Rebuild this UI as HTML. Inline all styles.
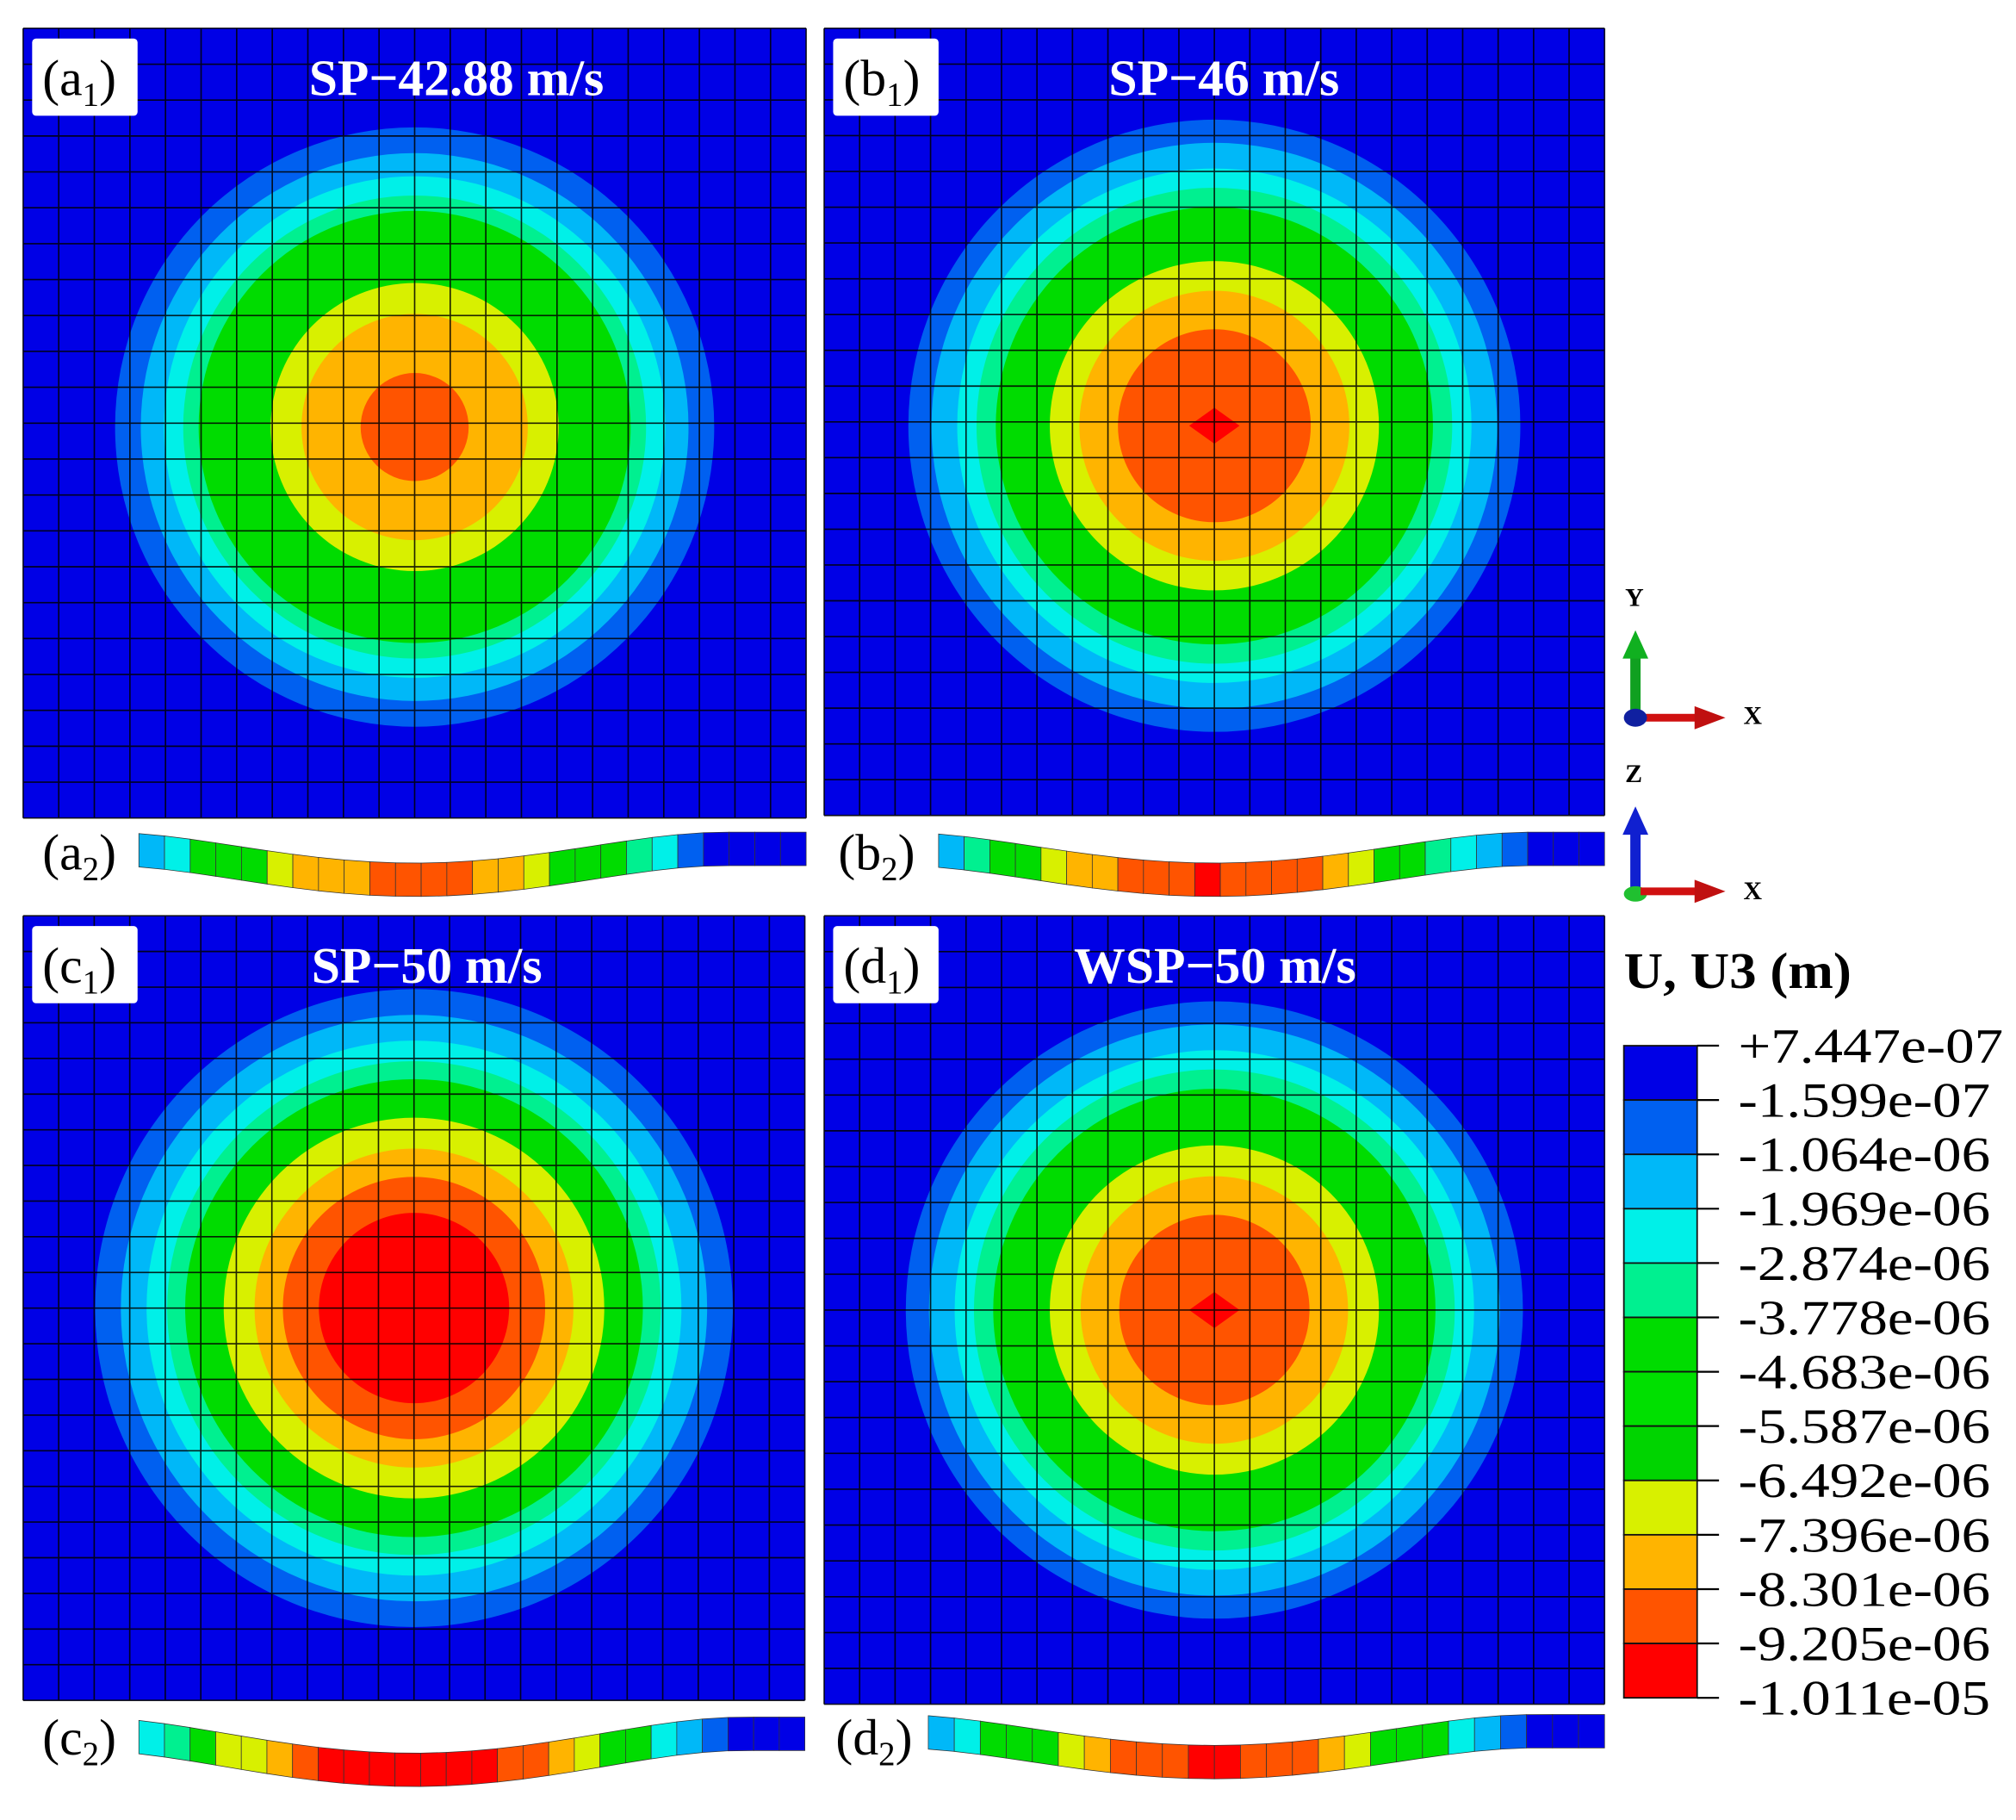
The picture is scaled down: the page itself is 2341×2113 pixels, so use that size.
<!DOCTYPE html>
<html><head><meta charset="utf-8">
<style>
html,body{margin:0;padding:0;background:#fff;}
svg{display:block;}
text{font-family:"Liberation Serif",serif;}
</style></head>
<body>
<svg id="fig" width="2341" height="2113" viewBox="0 0 1568 1415" preserveAspectRatio="none" xmlns="http://www.w3.org/2000/svg">
<g id="panels"></g>
<g id="legend"></g>
<g id="triads">
  <text x="1264" y="471" font-size="20" font-weight="bold">Y</text>
  <rect x="1268" y="508" width="8" height="48" fill="#10a020"/>
  <polygon points="1262,512 1272,490 1282,512" fill="#10b020"/>
  <rect x="1276" y="555" width="44" height="6" fill="#d01010"/>
  <polygon points="1318,549 1342,558 1318,567" fill="#c01010"/>
  <ellipse cx="1272" cy="558" rx="9" ry="7" fill="#1020a0"/>
  <text x="1356" y="563" font-size="20" font-weight="bold">X</text>
  <text x="1264" y="608" font-size="20" font-weight="bold">Z</text>
  <rect x="1268" y="645" width="8" height="46" fill="#1020d0"/>
  <polygon points="1262,649 1272,627 1282,649" fill="#1020d0"/>
  <ellipse cx="1272" cy="695" rx="9" ry="6" fill="#20c030"/>
  <rect x="1276" y="690" width="44" height="6" fill="#d01010"/>
  <polygon points="1318,684 1342,693 1318,702" fill="#c01010"/>
  <text x="1356" y="699" font-size="20" font-weight="bold">X</text>
</g>
</svg>
<script>
const bandColors=["#0000e6","#0060f0","#00b8f8","#00f0e8","#00f090","#00dc00","#00e000","#00d400","#d8f000","#ffb400","#ff5400","#ff0000"];
const legendLabels=["+7.447e-07","-1.599e-07","-1.064e-06","-1.969e-06","-2.874e-06","-3.778e-06","-4.683e-06","-5.587e-06","-6.492e-06","-7.396e-06","-8.301e-06","-9.205e-06","-1.011e-05"];
const panelNames=["a","b","c","d"];
const panelTitles=["SP\u221242.88 m/s","SP\u221246 m/s","SP\u221250 m/s","WSP\u221250 m/s"];
// contour radii (outer -> inner) for band indices 1..11
const bandIdx=[1,2,3,4,5,8,9,10,11];
const radiiA=[233,213,195,180,168,112,88,42,0];
const radiiB=[238,220,200,185,170,128,105,75,14];
const radiiC=[248,228,208,192,178,148,124,102,74];
const radiiD=[240,222,202,187,172,128,104,74,14];
const allRadii=[radiiA,radiiB,radiiC,radiiD];
const NS="http://www.w3.org/2000/svg";
function mk(t,a,p){const e=document.createElementNS(NS,t);for(const k in a)e.setAttribute(k,a[k]);(p||null)&&p.appendChild(e);return e;}
const geo=[
 {x:18,y:22,w:609,h:614,sx:108,sy:643,lx:33,ly:676,tx:355},
 {x:641,y:22,w:607,h:612,sx:730,sy:643,lx:652,ly:676,tx:952},
 {x:18,y:712,w:608,h:610,sx:108,sy:1331,lx:33,ly:1364,tx:332},
 {x:641,y:712,w:607,h:613,sx:722,sy:1329,lx:650,ly:1364,tx:945}
];
function colorAt(r,radii){
  let c=bandColors[0];
  for(let i=0;i<radii.length;i++){ if(r<=radii[i]) c=bandColors[bandIdx[i]]; }
  return c;
}
const panelsG=document.getElementById('panels');
geo.forEach((g,pi)=>{
  const radii=allRadii[pi];
  const grp=mk('g',{},panelsG);
  
  
  const cx=g.x+g.w/2+(pi%2===0?0:0), cy=g.y+g.h*0.5+(pi<2?3:0);
  mk('rect',{x:g.x,y:g.y,width:g.w,height:g.h,fill:bandColors[0]},grp);
  radii.forEach((r,i)=>{
    if(r<=0) return;
    const c=mk('circle',{cx:cx,cy:cy,r:r,fill:bandColors[bandIdx[i]]},grp);
    if(i===radii.length-1&&r<20){c.remove();mk('polygon',{points:`${cx-r*1.4},${cy} ${cx},${cy-r} ${cx+r*1.4},${cy} ${cx},${cy+r}`,fill:"#ff0000"},grp);}
  });
  const n=22;
  let dpath="";
  for(let i=0;i<=n;i++){const xx=g.x+g.w*i/n;dpath+=`M${xx},${g.y}V${g.y+g.h}`;const yy=g.y+g.h*i/n;dpath+=`M${g.x},${yy}H${g.x+g.w}`;}
  const gl=mk('path',{d:dpath,stroke:"#000",'stroke-width':1.1,fill:"none",opacity:0.85},grp);
  
  
  const lb=mk('rect',{x:g.x+7,y:g.y+8,width:82,height:60,fill:"#fff",rx:3},grp);
  
  
  const lt=mk('text',{x:g.x+15,y:g.y+52,'font-size':40},grp);
  
  
  lt.innerHTML=`(${panelNames[pi]}<tspan font-size="26" dy="8">1</tspan><tspan dy="-8">)</tspan>`;
  const tt=mk('text',{x:g.tx,y:g.y+52,'font-size':40,'font-weight':'bold',fill:"#fff",'text-anchor':'middle'},grp);
  
  
  tt.textContent=panelTitles[pi];
  const sg=mk('g',{},panelsG);
  
  
  const sag=pi===2?28:24, R=radii[0]+8, th=26, x0=g.sx, x1=g.x+g.w;
  const top=x=>{const u=(x-cx)/R;return Math.abs(u)<1? g.sy+4+sag*(1-u*u)*(1-u*u) : g.sy+4;};
  const cols=26;
  for(let i=0;i<cols;i++){
    const xa=x0+(x1-x0)*i/cols, xb=x0+(x1-x0)*(i+1)/cols, xm=(xa+xb)/2;
    const c=colorAt(Math.abs(xm-cx),radii);
    mk('polygon',{points:`${xa},${top(xa)} ${xb},${top(xb)} ${xb},${top(xb)+th} ${xa},${top(xa)+th}`,fill:c,stroke:"#333",'stroke-width':0.5},sg);
  }
  const st=mk('text',{x:g.lx,y:g.ly,'font-size':40},sg);
  
  
  st.innerHTML=`(${panelNames[pi]}<tspan font-size="26" dy="8">2</tspan><tspan dy="-8">)</tspan>`;
});
const lg=document.getElementById('legend');
const lt=mk('text',{x:1263,y:768,'font-size':40,'font-weight':'bold',textLength:177,lengthAdjust:'spacingAndGlyphs'},lg);


lt.textContent="U, U3 (m)";
const top0=813, bot=1320, bh=(bot-top0)/12;
for(let i=0;i<12;i++){
  const r=mk('rect',{x:1263,y:top0+i*bh,width:57,height:bh,fill:bandColors[i],stroke:"#111",'stroke-width':1.2},lg);
  
  
}
legendLabels.forEach((s,i)=>{
  const y=top0+i*bh;
  mk('line',{x1:1320,y1:y,x2:1337,y2:y,stroke:"#000",'stroke-width':1.5},lg);
  const t=mk('text',{x:1352,y:y+13,'font-size':38,textLength:(i===0?206:196),lengthAdjust:'spacingAndGlyphs'},lg);
  
  
  t.textContent=s;
});
</script>
</body></html>
